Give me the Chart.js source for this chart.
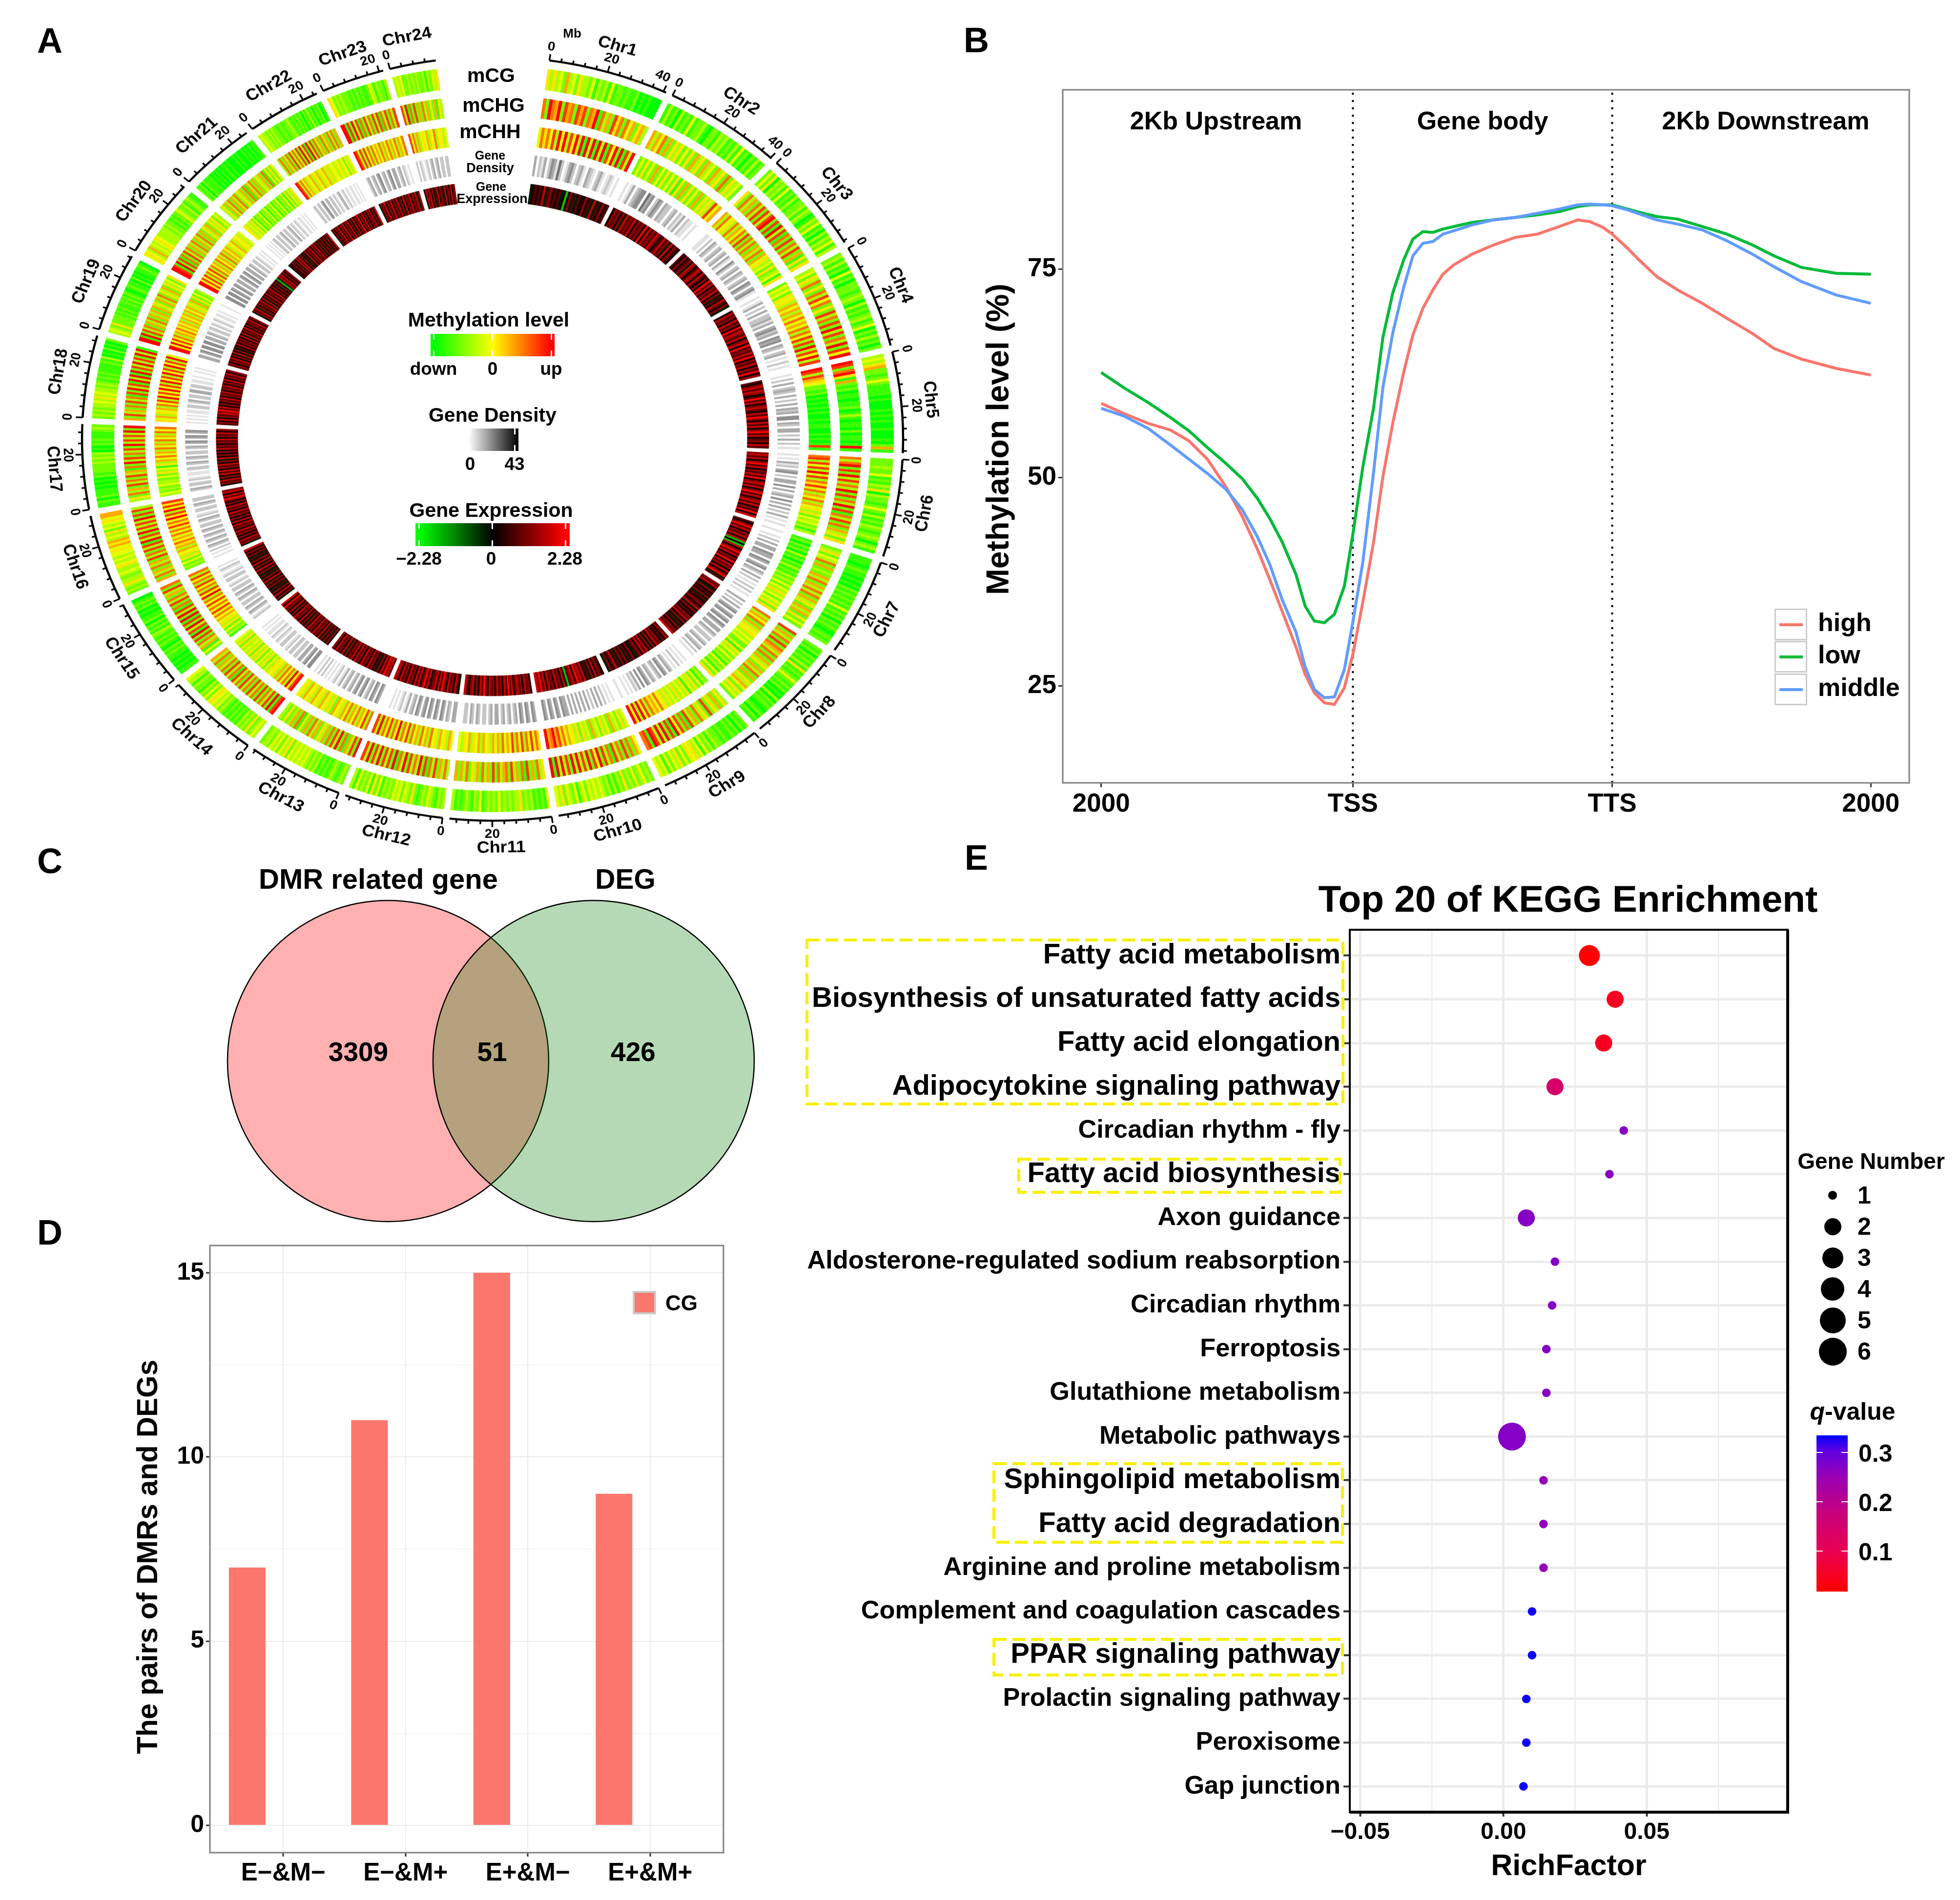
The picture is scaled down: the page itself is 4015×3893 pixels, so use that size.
<!DOCTYPE html>
<html>
<head>
<meta charset="utf-8">
<title>Methylation figure</title>
<script src="https://cdn.jsdelivr.net/npm/chart.js@4"></script>
<style>
  html, body { margin: 0; background: #fff; }
  #page { position: relative; width: 4015px; height: 3893px; overflow: hidden; background: #fff; }
  canvas { position: absolute; }
  .t { position: absolute; white-space: nowrap; font-family: "Liberation Sans", Arial, sans-serif; font-weight: bold; line-height: 1; color: #000; }
  .b { position: absolute; box-sizing: border-box; }
</style>
</head>
<body>
<div id="page"></div>
<script>
// ---- panel A: chromosomes, Mb lengths, one string per chromosome, one digit per bin
const chrLen = [41,40.4,36.8,38,36.8,35.6,35.3,35.6,35.6,35.1,34.4,33.7,32.7,32,32.2,31.5,31,30,28.6,28.4,26.2,25.2,21.4,15.7];
const chrGap = 2.345, topGap = 38.25, firstAngle = 7.96;
const mCG = ['535342634253324132314122121120101000','131203121412231022132312131412021312','242503231412131223132013241203132413','231312041202221232031212312402131202','343562212421111010001010100100010261','222322412132503221242131213212320231','111012110101021212121412120212101212','212021213151212421212010302121012021','212021211212231324143545242534241434','232432423252313132343434243142342534','412121323253323232423232142312321213','323123423212523424342323142514232413','232123212121323234343434253424342332','343252323121212123243454242312231334','110101011212012121231212021101021210','232353323433543434454656343524345466','112021110101021222232323010212111232','232323343534332321212111121301020102','343252222121211212121012110201011210','454363434543333323221212243223123211','212021111010101011010001010010101011','343323232212212232121212021312021201','54232322212121211243132213','34342232323223132435'];
const mCHG = ['7297692867286827691736285727462563','6364726253524252635263426352725342','5273627382838928193817282738261525','3425372527384725283728293827392849','9827951621201101120131011020110191','7379282938373928273928173827263525','2352437262326372637372635263625242','8263728276372726352637262536425342','3526352825372638172849182939389187','4627282738173829482938393928393919','5372628172638276372826372635273626','3736283718293738293719283829382938','9283617293827263526372625172632523','9819283728273827382738173827362736','2416372829183928192938172837263827','6273627362837283819382938383928283','3527362837283617293827382938383929','6283627283718293819391928393829391','9919283726372636263526372536253425','9981928172837263726372625362535243','3526372637253627163726253627152524','3726372837382938193827362736273726','99182938172837283817382738','83917282627362526153'];
const mCHH = ['4757483949384939193919391849291839','2425242624252425152625242625353846','6374537364738273726372645342523415','2434254536463647464737483829384938','9838654221201010101001011001010181','7838483948375847364736453524342313','1202120312021312132324243534243525','7364726354534342241534242314231425','2314253415343534353547465738493949','4352436243524362435253546475869769','5748473847384647364635463645364534','4635463547364736473847394738473938','7384637463746354625354635463546354','9849374736354534253425352534352534','1324253546474847484739483748374837','2324253546365746474748574958394858','3423243324253415364746374637463747','5463546374839484948394839483948394','9949484736574646364636463536252423','9948483748374637463736463546354534','4534352413241324132413241324152435','9837463546354635463535443543542534','98383847374647364736473647','84736345463547354534'];
const geneDensity = ['302130243152013420231032102310121010','101302344053402430322023021302110100','011020320230230310420230320230430341','101302030223130342304340320230102010','102030232030203032304403203302030201','101031203402033040302304030302030101','100102030330433043034032030201020201','302030340340340430330320220230230201','010102010230340320230340403120101001','010102030302030303030303340340340340','340340340320320320330320220230230220','330230340340340430340320310210101000','340340320430430320320310210101020201','440430330220220210220120120110101000','210230230220230230220210220210120100','101020230230230230220230210220230220','230220210110220230230220230340340340','101010110220230220330220110100101000','330340440440330320220210210110100010','440440430430330340340330320220210101','101010220220230220230210210110101000','220220340230220210230120110110101000','23023034023034033023021010','20210120230230220220'];
const geneExpr = ['456565846756564515746465575648465756','576757486768576759586768756867485765','657567487568758657596857685746586574','586758675968768578596768695768576957','657868756968578658697586857968567586','786857968576869578685796857868576958','657968576858151857968576958675857946','768547565746567568475657685746475768','675657685747586857645756475746586574','567585746586879587615857685768586978','576857687586968576857685796857487568','468576857968587658697586857685768578','687968574657685768576858675748576857','574757485768576857475857685748576958','475857464757485746475857485746475758','476857576857685857576857685757968587','576857586857685748575758675768576857','675857687968575768576857685768576857','675768574857465857675848576857576857','476847576848475857685757475148685757','465757486857464857685768574757475748','475768576857685748576957685757685748','47685768576847585768576847','48685746857648575857'];

// ---- panel B
const metaX = [0,2.9,6.1,9,11.4,13.8,16.2,18.3,20.3,21.9,23.5,25.3,26.5,27.7,29,30.3,31.6,32.7,34,35.4,36.6,37.9,39.3,40.5,41.8,43.1,44.4,45.8,48.2,51,53.8,56.7,59.5,61.9,63.5,65.2,66.4,68.4,70,72.2,74.9,78.1,81.3,84.6,87.4,91,95.5,100];
const metaHigh = [58.9,57.7,56.5,55.7,54.4,52.2,48.9,45.4,41.4,37.8,34,29.7,26.4,24.2,23,22.8,24.8,28.8,35.1,42.3,50.1,56.6,62.6,67.1,70.3,72.5,74.4,75.5,76.8,77.9,78.8,79.2,80.1,80.9,80.7,80,79.2,77.5,76,74.1,72.5,70.9,69.1,67.3,65.5,64.2,63.1,62.3];
const metaLow = [62.6,60.8,59,57.2,55.6,53.6,51.7,49.9,47.5,45.1,42.3,38.4,34.6,32.8,32.6,33.6,37,43.2,51.3,58.4,66.8,72.2,76.1,78.6,79.5,79.4,79.8,80.1,80.6,80.9,81.2,81.5,81.9,82.5,82.7,82.7,82.7,82.2,81.8,81.3,81,80.1,79.2,77.9,76.6,75.2,74.5,74.4];
const metaMiddle = [58.3,57.4,55.9,53.9,52.2,50.5,48.6,46.2,42.9,39.6,35.4,31.5,27.3,24.6,23.6,23.7,27,32.7,39.9,50.7,60.8,67.4,72.8,76.6,78.1,78.3,79.2,79.6,80.3,80.9,81.2,81.7,82.2,82.7,82.8,82.7,82.6,82.1,81.6,80.9,80.4,79.7,78.4,76.8,75.3,73.5,71.9,70.9];
const metaTicks = [0,32.7,66.4,100];
const metaTickLabels = ['2000','TSS','TTS','2000'];
const metaYTicks = [25,50,75];

// ---- panel C
const vennNames = ['DMR related gene','DEG'];
const vennCounts = [3309,51,426];

// ---- panel D
const pairCats = ['E\u2212&M\u2212','E\u2212&M+','E+&M\u2212','E+&M+'];
const pairCG = [7,11,15,9];
const pairOther = [null,null,null,null];
const pairYTicks = [0,2.5,5,7.5,10,12.5,15];

// ---- panel E
const keggNames = ['Fatty acid metabolism','Biosynthesis of unsaturated fatty acids','Fatty acid elongation','Adipocytokine signaling pathway','Circadian rhythm - fly','Fatty acid biosynthesis','Axon guidance','Aldosterone-regulated sodium reabsorption','Circadian rhythm','Ferroptosis','Glutathione metabolism','Metabolic pathways','Sphingolipid metabolism','Fatty acid degradation','Arginine and proline metabolism','Complement and coagulation cascades','PPAR signaling pathway','Prolactin signaling pathway','Peroxisome','Gap junction'];
const keggRich = [0.030,0.039,0.035,0.018,0.042,0.037,0.008,0.018,0.017,0.015,0.015,0.003,0.014,0.014,0.014,0.010,0.010,0.008,0.008,0.007];
const keggGenes = [3,2,2,2,1,1,2,1,1,1,1,6,1,1,1,1,1,1,1,1];
const keggQ = [0.018,0.05,0.05,0.145,0.27,0.27,0.27,0.27,0.27,0.27,0.27,0.27,0.255,0.26,0.255,0.33,0.33,0.33,0.33,0.33];
const keggHighlighted = [0,1,2,3,5,12,13,16];
const richTicks = [-0.05,-0.025,0,0.025,0.05,0.075];
const richLabels = ['\u22120.05','','0.00','','0.05',''];
const geneLegend = [1,2,3,4,5,6];
const geneRadius = [0,8.8,17.5,21.5,24,26.5,28.5];

const FONT = '"Liberation Sans", Arial, sans-serif';
Chart.defaults.font.family = FONT;
Chart.defaults.font.weight = 'bold';
Chart.defaults.color = '#000';
Chart.defaults.animation = false;
Chart.defaults.responsive = false;
Chart.defaults.devicePixelRatio = 1;
Chart.defaults.events = [];
Chart.defaults.plugins.legend.display = false;
Chart.defaults.plugins.tooltip.enabled = false;

const page = document.getElementById('page');

function addCanvas(box) {
  const c = document.createElement('canvas');
  c.width = box.w; c.height = box.h;
  c.style.left = box.x + 'px'; c.style.top = box.y + 'px';
  page.appendChild(c);
  return c;
}

function text(str, x, y, size, o) {
  o = o || {};
  const d = document.createElement('div');
  d.className = 't';
  d.innerHTML = str;
  d.style.left = x + 'px'; d.style.top = y + 'px';
  d.style.fontSize = size + 'px';
  const tx = o.anchor === 'l' ? '0' : '-50%';
  d.style.transform = `translate(${tx},-50%) rotate(${o.rot || 0}deg)`;
  d.style.transformOrigin = o.anchor === 'l' ? 'left center' : 'center center';
  page.appendChild(d);
}

function rect(x, y, w, h, css) {
  const d = document.createElement('div');
  d.className = 'b';
  d.style.cssText = `left:${x}px;top:${y}px;width:${w}px;height:${h}px;${css}`;
  page.appendChild(d);
}

// fixes the plot rectangle in page pixels, the axis boxes take the rest of the canvas
function layoutFor(box, area) {
  return {
    layout: { autoPadding: false, padding: { left: 0, top: area.t - box.y, right: box.x + box.w - area.r, bottom: 0 } },
    yWidth: s => { s.width = area.l - box.x; },
    xHeight: s => { s.height = box.y + box.h - area.b; }
  };
}

const framePlugin = {
  id: 'frame',
  afterDraw(chart, args, o) {
    const { left, right, top, bottom } = chart.chartArea;
    const g = chart.ctx;
    g.save();
    g.strokeStyle = o.color;
    g.lineWidth = o.width; g.strokeRect(left, top, right - left, bottom - top);
    if (o.heavy) {
      g.lineWidth = o.heavy;
      g.beginPath(); g.moveTo(left, bottom); g.lineTo(right, bottom); g.lineTo(right, top); g.stroke();
    }
    g.restore();
  }
};

// ---------------------------------------------------------------- panel A
function hex2(v) { return Math.round(v); }
function methColor(d) {
  const t = d / 9;
  return t < 0.5 ? `rgb(${hex2(t * 510)},255,0)` : `rgb(255,${hex2((1 - t) * 510)},0)`;
}
function grayColor(d) { const v = hex2(255 * (1 - d / 9)); return `rgb(${v},${v},${v})`; }
function exprColor(d) {
  const t = d / 9;
  return t < 0.5 ? `rgb(0,${hex2((0.5 - t) * 510)},0)` : `rgb(${hex2((t - 0.5) * 510)},0,0)`;
}

function trackDataset(strings, colorFn, weight) {
  const data = [], colors = [], widths = [];
  strings.forEach((s, i) => {
    const bins = s.split('').map(Number);
    bins.forEach(b => { data.push(chrLen[i] / bins.length); colors.push(colorFn(b)); widths.push(1); });
    data.push(i === strings.length - 1 ? topGap : chrGap);
    colors.push('rgba(0,0,0,0)'); widths.push(0);
  });
  return { data, backgroundColor: colors, borderColor: colors, borderWidth: widths, weight };
}
function spacer(weight) {
  return { data: [1], backgroundColor: 'rgba(0,0,0,0)', borderWidth: 0, weight };
}

const degPerMb = 360 / (chrLen.reduce((a, b) => a + b, 0) + chrGap * (chrLen.length - 1) + topGap);

const circosAxis = {
  id: 'circosAxis',
  afterDraw(chart) {
    const g = chart.ctx;
    const cx = (chart.chartArea.left + chart.chartArea.right) / 2;
    const cy = (chart.chartArea.top + chart.chartArea.bottom) / 2;
    const R = 841;
    const tangent = (str, deg, r, size) => {
      const a = deg * Math.PI / 180;
      g.save();
      g.translate(cx + r * Math.sin(a), cy - r * Math.cos(a));
      g.rotate(deg > 90 && deg < 270 ? a - Math.PI : a);
      g.font = `bold ${size}px ${FONT}`;
      g.textAlign = 'center'; g.textBaseline = 'middle';
      g.fillStyle = '#000';
      g.fillText(str, 0, 0);
      g.restore();
    };
    let start = firstAngle;
    chrLen.forEach((len, i) => {
      const end = start + len * degPerMb;
      g.strokeStyle = '#000'; g.lineWidth = 4.5;
      g.beginPath();
      g.arc(cx, cy, R, (start - 90) * Math.PI / 180, (end - 90) * Math.PI / 180);
      g.stroke();
      for (let mb = 0; mb <= len; mb += 4) {
        const deg = start + mb * degPerMb, a = deg * Math.PI / 180;
        const tick = mb % 20 === 0 ? 14 : 8;
        g.lineWidth = 3.5;
        g.beginPath();
        g.moveTo(cx + R * Math.sin(a), cy - R * Math.cos(a));
        g.lineTo(cx + (R + tick) * Math.sin(a), cy - (R + tick) * Math.cos(a));
        g.stroke();
        // a label right at the chromosome end leans back so it clears the next "0"
        if (mb % 20 === 0) tangent(String(mb), len - mb < 3 ? deg - 1 : deg, 871, 28);
      }
      tangent('Chr' + (i + 1), (start + end) / 2, 901, 36);
      start = end + chrGap * degPerMb;
    });
  }
};

const circosWrap = document.createElement('div');
circosWrap.style.cssText = 'position:absolute;left:0;top:-40px;width:2018px;height:2018px;transform:scaleY(0.9306);transform-origin:top left;';
page.appendChild(circosWrap);
const circosCanvas = document.createElement('canvas');
circosCanvas.width = 2018; circosCanvas.height = 2018;
circosWrap.appendChild(circosCanvas);

new Chart(circosCanvas, {
  type: 'doughnut',
  data: {
    datasets: [
      trackDataset(mCG, methColor, 46), spacer(19),
      trackDataset(mCHG, methColor, 44), spacer(20),
      trackDataset(mCHH, methColor, 44), spacer(19),
      trackDataset(geneDensity, grayColor, 45), spacer(18),
      trackDataset(geneExpr, exprColor, 44)
    ]
  },
  options: {
    rotation: firstAngle,
    cutout: 522,
    layout: { autoPadding: false, padding: 187 }
  },
  plugins: [circosAxis]
});

text('Mb', 1172, 68, 26);
text('mCG', 1006, 154, 41);
text('mCHG', 1011, 215, 41);
text('mCHH', 1004, 269, 41);
text('Gene', 1004, 318, 25);
text('Density', 1004, 344, 27);
text('Gene', 1006, 382, 25);
text('Expression', 1008, 407, 27);

function colorBar(x, y, w, h, gradient, notchXs) {
  rect(x, y, w, h, `background:linear-gradient(to right,${gradient});`);
  notchXs.forEach(nx => {
    rect(nx - 1.5, y, 3, 12, 'background:#fff;');
    rect(nx - 1.5, y + h - 12, 3, 12, 'background:#fff;');
  });
}
text('Methylation level', 1001, 655, 41);
colorBar(882, 684, 254, 46, '#00ff00 0%,#00ff00 3%,#ffff00 50%,#ff0000 97%,#ff0000 100%', [888, 1008, 1129]);
text('down', 888, 755, 37);
text('0', 1009, 755, 37);
text('up', 1129, 755, 37);
text('Gene Density', 1009, 850, 41);
colorBar(960, 878, 102, 46, '#fff 0%,#000 100%', [963, 1054]);
text('0', 963, 950, 37);
text('43', 1054, 950, 37);
text('Gene Expression', 1006, 1045, 41);
colorBar(851, 1072, 316, 47, '#00ff00 0%,#00ff00 3%,#000 50%,#ff0000 97%,#ff0000 100%', [858, 1008, 1158]);
text('\u22122.28', 858, 1144, 37);
text('0', 1006, 1144, 37);
text('2.28', 1157, 1144, 37);

// ---------------------------------------------------------------- panel B
(function () {
  const box = { x: 2090, y: 130, w: 1860, h: 1580 };
  const area = { l: 2177, r: 3911, t: 184, b: 1604 };
  const L = layoutFor(box, area);
  const series = (label, values, color, order) => ({
    label, order,
    data: metaX.map((x, i) => ({ x, y: values[i] })),
    borderColor: color, borderWidth: 6, pointRadius: 0, tension: 0, fill: false
  });
  const vline = x => ({
    label: '', order: 9, data: [{ x, y: 13.4 }, { x, y: 96.5 }],
    borderColor: '#000', borderWidth: 4, borderDash: [4, 11], pointRadius: 0
  });
  new Chart(addCanvas(box), {
    type: 'line',
    data: { datasets: [
      series('high', metaHigh, '#F8766D', 3),
      series('low', metaLow, '#00BA38', 2),
      series('middle', metaMiddle, '#619CFF', 1),
      vline(metaTicks[1]), vline(metaTicks[2])
    ] },
    options: {
      layout: L.layout,
      scales: {
        x: {
          type: 'linear', min: -5, max: 105, afterFit: L.xHeight,
          afterBuildTicks: s => { s.ticks = metaTicks.map(value => ({ value })); },
          grid: { drawOnChartArea: false, tickLength: 9, tickWidth: 3, tickColor: '#333' },
          border: { display: false },
          ticks: { callback: (v, i) => metaTickLabels[i], font: { size: 53 }, maxRotation: 0, autoSkip: false, padding: 4 }
        },
        y: {
          min: 13.4, max: 96.5, afterFit: L.yWidth,
          afterBuildTicks: s => { s.ticks = metaYTicks.map(value => ({ value })); },
          grid: { drawOnChartArea: false, tickLength: 9, tickWidth: 3, tickColor: '#333' },
          border: { display: false },
          ticks: { font: { size: 53 }, padding: 4 }
        }
      },
      plugins: { frame: { color: '#7f7f7f', width: 3 } }
    },
    plugins: [framePlugin]
  });
  text('Methylation level (%)', 2044, 900, 64.5, { rot: -90 });
  text('2Kb Upstream', 2491, 247, 52);
  text('Gene body', 3037, 247, 52);
  text('2Kb Downstream', 3617, 247, 52);
  const keys = [['high', '#F8766D', 1247], ['low', '#00BA38', 1313], ['middle', '#619CFF', 1380]];
  keys.forEach(k => {
    rect(3635, k[2], 67, 65, 'border:3px solid #ccc;background:#fff;');
    rect(3645, k[2] + 30, 48, 6, 'background:' + k[1] + ';');
    text(k[0], 3724, k[2] + 28, 52, { anchor: 'l' });
  });
})();

// ---------------------------------------------------------------- panel C
(function () {
  const box = { x: 374, y: 1774, w: 1263, h: 800 };
  new Chart(addCanvas(box), {
    type: 'bubble',
    data: { datasets: [{
      data: [{ x: 0, y: 0, r: 329 }, { x: 1, y: 0, r: 329 }],
      backgroundColor: ['rgba(255,0,0,0.31)', 'rgba(0,124,0,0.29)'],
      borderColor: '#000', borderWidth: 2.5, clip: false
    }] },
    options: {
      layout: { autoPadding: false },
      scales: {
        x: { display: false, min: -1, max: 2 },
        y: { display: false, min: -1, max: 1 }
      }
    }
  });
  text(vennNames[0], 775, 1801, 58);
  text(vennNames[1], 1281, 1801, 57);
  text(String(vennCounts[0]), 734, 2155, 55);
  text(String(vennCounts[1]), 1008, 2155, 55);
  text(String(vennCounts[2]), 1297, 2155, 55);
})();

// ---------------------------------------------------------------- panel D
(function () {
  const box = { x: 300, y: 2490, w: 1210, h: 1380 };
  const area = { l: 430, r: 1482, t: 2552, b: 3796 };
  const L = layoutFor(box, area);
  const pts = vals => vals.map((y, i) => ({ x: i + 1, y }));
  const isMajor = i => i % 2 === 0;
  new Chart(addCanvas(box), {
    type: 'bar',
    data: { datasets: [
      { label: 'CG', data: pts(pairCG), backgroundColor: '#FB766D', categoryPercentage: 1.18, barPercentage: 0.508 },
      { label: '', data: pts(pairOther), backgroundColor: '#00BFC4', categoryPercentage: 1.18, barPercentage: 0.508 }
    ] },
    options: {
      layout: L.layout,
      scales: {
        x: {
          type: 'linear', min: 0.4, max: 4.6, offset: false, afterFit: L.xHeight,
          afterBuildTicks: s => { s.ticks = pairCats.map((c, i) => ({ value: i + 1 })); },
          grid: { offset: false, color: '#ebebeb', lineWidth: 2, tickLength: 8, tickWidth: 3, tickColor: '#333' },
          border: { display: false },
          ticks: { callback: (v, i) => pairCats[i], font: { size: 51 }, maxRotation: 0, autoSkip: false, padding: 4 }
        },
        y: {
          min: -0.742, max: 15.74, afterFit: L.yWidth,
          afterBuildTicks: s => { s.ticks = pairYTicks.map(value => ({ value })); },
          grid: {
            color: '#ebebeb', lineWidth: c => isMajor(c.index) ? 2 : 1,
            tickLength: 8, tickWidth: 3, tickColor: c => isMajor(c.index) ? '#333' : 'transparent'
          },
          border: { display: false },
          ticks: { callback: (v, i) => isMajor(i) ? String(v) : '', font: { size: 50 }, padding: 4, autoSkip: false }
        }
      },
      plugins: { frame: { color: '#7f7f7f', width: 3 } }
    },
    plugins: [framePlugin]
  });
  text('The pairs of DMRs and DEGs', 302, 3190, 58.4, { rot: -90 });
  rect(1296, 2645, 48, 48, 'background:#FB766D;border:4px solid #ccc;');
  text('CG', 1396, 2670, 44);
})();

// ---------------------------------------------------------------- panel E
const qStops = [[0, [255,0,0]], [0.25, [234,0,80]], [0.5, [200,0,124]], [0.75, [149,0,184]], [0.9, [96,0,224]], [1, [0,0,255]]];
const Q_MIN = 0.018, Q_MAX = 0.335;
function qColor(q) {
  const t = Math.min(1, Math.max(0, (q - Q_MIN) / (Q_MAX - Q_MIN)));
  for (let i = 1; i < qStops.length; i++) {
    if (t <= qStops[i][0]) {
      const a = qStops[i - 1], b = qStops[i], f = (t - a[0]) / (b[0] - a[0]);
      return `rgb(${a[1].map((v, k) => Math.round(v + (b[1][k] - v) * f)).join(',')})`;
    }
  }
  return 'rgb(0,0,255)';
}

const keggBoxes = {
  id: 'keggBoxes',
  afterDraw(chart, args, o) {
    const g = chart.ctx;
    g.save();
    g.strokeStyle = '#f7f000'; g.lineWidth = 6; g.setLineDash([26, 12]);
    o.boxes.forEach(b => g.strokeRect(b[0] - o.x, b[1] - o.y, b[2], b[3]));
    g.restore();
  }
};

(function () {
  const box = { x: 1640, y: 1850, w: 2060, h: 2012 };
  const area = { l: 2765, r: 3662, t: 1905, b: 3713 };
  const L = layoutFor(box, area);
  new Chart(addCanvas(box), {
    type: 'bubble',
    data: { datasets: [{
      data: keggNames.map((n, i) => ({ x: keggRich[i], y: i + 1, r: geneRadius[keggGenes[i]] })),
      backgroundColor: keggQ.map(qColor), borderWidth: 0
    }] },
    options: {
      layout: L.layout,
      scales: {
        x: {
          type: 'linear', min: -0.0536, max: 0.0992, afterFit: L.xHeight,
          afterBuildTicks: s => { s.ticks = richTicks.map(value => ({ value })); },
          grid: {
            color: '#ebebeb', lineWidth: c => richLabels[c.index] ? 5 : 2.5,
            tickLength: 9, tickWidth: 4, tickColor: c => richLabels[c.index] ? '#333' : 'transparent'
          },
          border: { display: false },
          ticks: { callback: (v, i) => richLabels[i], font: { size: 48 }, maxRotation: 0, autoSkip: false, padding: 4 },
          title: { display: true, text: 'RichFactor', font: { size: 61 }, padding: 0 }
        },
        y: {
          type: 'linear', reverse: true, min: 0.41, max: 20.59, afterFit: L.yWidth,
          afterBuildTicks: s => { s.ticks = keggNames.map((n, i) => ({ value: i + 1 })); },
          grid: { color: '#ebebeb', lineWidth: 5, tickLength: 13, tickWidth: 4, tickColor: '#333' },
          border: { display: false },
          ticks: {
            callback: (v, i) => keggNames[i], autoSkip: false, padding: 6,
            font: c => ({ size: keggHighlighted.includes(c.index) ? 58 : 52.3, weight: 'bold' })
          }
        }
      },
      plugins: {
        frame: { color: '#000', width: 4, heavy: 6 },
        keggBoxes: { x: box.x, y: box.y, boxes: [[1653, 1926, 1098, 336], [2087, 2375, 658, 68], [2036, 2999, 714, 161], [2036, 3359, 714, 73]] }
      }
    },
    plugins: [framePlugin, keggBoxes]
  });
  text('Top 20 of KEGG Enrichment', 3212, 1842, 76.5);

  text('Gene Number', 3833, 2379, 46);
  const legendY = [2449, 2513, 2577, 2641, 2705, 2769];
  geneLegend.forEach((g, i) => {
    const r = geneRadius[g];
    rect(3754 - r, legendY[i] - r, 2 * r, 2 * r, 'background:#000;border-radius:50%;');
    text(String(g), 3819, legendY[i], 50);
  });
  text('<i>q</i>-value', 3795, 2892, 50);
  rect(3721, 2941, 64, 320, 'background:linear-gradient(to top,rgb(255,0,0) 0%,rgb(234,0,80) 25%,rgb(200,0,124) 50%,rgb(149,0,184) 75%,rgb(96,0,224) 90%,rgb(0,0,255) 100%);');
  [[0.3, 2976], [0.2, 3077], [0.1, 3178]].forEach(t => {
    rect(3721, t[1] - 1, 13, 2, 'background:#fff;');
    rect(3772, t[1] - 1, 13, 2, 'background:#fff;');
    text(String(t[0]), 3807, t[1] + 2, 50, { anchor: 'l' });
  });
})();

// panel letters
text('A', 102, 83, 72);
text('B', 2000, 82, 72);
text('C', 102, 1764, 72);
text('D', 102, 2525, 72);
text('E', 2000, 1757, 72);
</script>
</body>
</html>
